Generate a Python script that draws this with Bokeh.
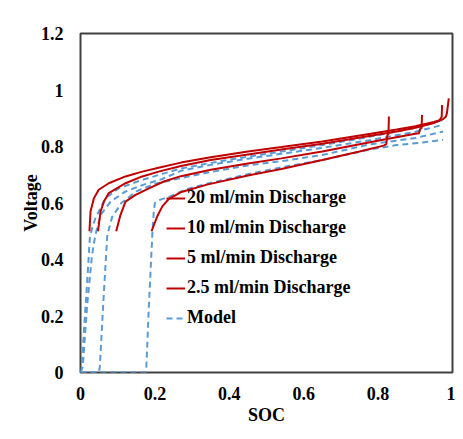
from bokeh.plotting import figure
from bokeh.models import FixedTicker, Range1d, Legend, LegendItem, BoxAnnotation
from bokeh.embed import file_html
from bokeh.resources import INLINE

# ---- data ----
series_names = ["20 ml/min Discharge", "10 ml/min Discharge", "5 ml/min Discharge", "2.5 ml/min Discharge"]

soc_20 = [0.024, 0.027, 0.036, 0.049, 0.076, 0.121, 0.166, 0.21, 0.27, 0.35, 0.45, 0.54, 0.65, 0.78, 0.85, 0.90, 0.95, 0.975, 0.982, 0.985, 0.99]
v_20 = [0.50, 0.57, 0.617, 0.647, 0.670, 0.694, 0.711, 0.725, 0.743, 0.762, 0.782, 0.798, 0.818, 0.845, 0.860, 0.872, 0.887, 0.897, 0.905, 0.918, 0.97]

soc_10 = [0.047, 0.054, 0.063, 0.076, 0.121, 0.166, 0.21, 0.27, 0.35, 0.45, 0.54, 0.65, 0.78, 0.85, 0.90, 0.95, 0.965, 0.971, 0.972]
v_10 = [0.50, 0.57, 0.605, 0.635, 0.670, 0.694, 0.711, 0.731, 0.752, 0.772, 0.789, 0.810, 0.838, 0.853, 0.866, 0.883, 0.892, 0.905, 0.947]

soc_5 = [0.096, 0.1075, 0.121, 0.148, 0.184, 0.224, 0.27, 0.35, 0.45, 0.54, 0.65, 0.75, 0.82, 0.90, 0.91, 0.913, 0.917, 0.918]
v_5 = [0.50, 0.558, 0.605, 0.629, 0.652, 0.676, 0.695, 0.718, 0.740, 0.758, 0.782, 0.808, 0.826, 0.845, 0.847, 0.862, 0.866, 0.912]

soc_2p5 = [0.191, 0.206, 0.22, 0.237, 0.269, 0.34, 0.45, 0.54, 0.65, 0.75, 0.815, 0.822, 0.825, 0.828, 0.829]
v_2p5 = [0.50, 0.552, 0.588, 0.614, 0.638, 0.665, 0.697, 0.720, 0.752, 0.782, 0.803, 0.808, 0.84, 0.845, 0.906]

soc_m1 = [0.0, 0.004, 0.009, 0.018, 0.025, 0.031, 0.040, 0.067, 0.103, 0.166, 0.22, 0.27, 0.35, 0.45, 0.54, 0.65, 0.78, 0.90, 0.975]
v_m1 = [0.0, 0.02, 0.145, 0.322, 0.475, 0.51, 0.546, 0.617, 0.652, 0.682, 0.703, 0.722, 0.742, 0.764, 0.782, 0.805, 0.835, 0.866, 0.894]

soc_m2 = [0.0, 0.006, 0.018, 0.031, 0.040, 0.054, 0.081, 0.12, 0.17, 0.22, 0.27, 0.35, 0.45, 0.54, 0.65, 0.78, 0.90, 0.975]
v_m2 = [0.0, 0.02, 0.24, 0.416, 0.487, 0.558, 0.605, 0.64, 0.665, 0.685, 0.714, 0.735, 0.757, 0.774, 0.795, 0.823, 0.852, 0.877]

soc_m3 = [0.0, 0.049, 0.052, 0.061, 0.072, 0.085, 0.11, 0.15, 0.20, 0.27, 0.35, 0.45, 0.54, 0.65, 0.78, 0.90, 0.975]
v_m3 = [0.0, 0.0, 0.02, 0.24, 0.487, 0.55, 0.600, 0.641, 0.668, 0.688, 0.71, 0.733, 0.748, 0.77, 0.808, 0.83, 0.853]

soc_m4 = [0.0, 0.175, 0.177, 0.184, 0.193, 0.197, 0.20, 0.215, 0.242, 0.287, 0.34, 0.45, 0.54, 0.65, 0.78, 0.85, 0.92, 0.975]
v_m4 = [0.0, 0.0, 0.02, 0.24, 0.487, 0.57, 0.60, 0.612, 0.624, 0.650, 0.668, 0.702, 0.726, 0.752, 0.790, 0.805, 0.814, 0.824]

x_ticks = [0, 0.2, 0.4, 0.6, 0.8, 1]
x_tick_labels = ["0", "0.2", "0.4", "0.6", "0.8", "1"]
y_ticks = [0, 0.2, 0.4, 0.6, 0.8, 1.0, 1.2]
y_tick_labels = ["0", "0.2", "0.4", "0.6", "0.8", "1", "1.2"]

RED = "#C00000"
BLUE = "#5B9BD5"
FONT = "Liberation Serif"

BORDER_TOP, FRAME_H, BORDER_BOTTOM = 33, 339, 62
CANVAS_H = BORDER_TOP + FRAME_H + BORDER_BOTTOM

p = figure(frame_width=372, frame_height=FRAME_H,
           min_border_left=80, min_border_top=BORDER_TOP, min_border_right=3, min_border_bottom=BORDER_BOTTOM,
           x_range=Range1d(0, 1), y_range=Range1d(0, 1.2),
           output_backend="svg", toolbar_location=None)

p.xgrid.visible = False
p.ygrid.visible = False
p.outline_line_color = "#404040"
p.outline_line_width = 2
p.background_fill_color = "white"
p.border_fill_color = "white"

# light grey outer frame seen at the top/left of the reference picture
# (canvas units: y is measured upward from the canvas bottom)
outer = BoxAnnotation(left=8, right=600, top=CANVAS_H - 13, bottom=-100,
                      left_units="canvas", right_units="canvas",
                      top_units="canvas", bottom_units="canvas",
                      fill_alpha=0, line_color="#d9d9d9", line_width=2, level="overlay")
p.add_layout(outer)

for ax in (p.xaxis[0], p.yaxis[0]):
    ax.axis_line_color = None
    ax.major_tick_line_color = None
    ax.minor_tick_line_color = None
    ax.major_tick_out = 0
    ax.major_tick_in = 0
    ax.major_label_text_font = FONT
    ax.major_label_text_font_style = "bold"
    ax.major_label_text_font_size = "18px"
    ax.major_label_text_color = "black"
    ax.axis_label_text_font = FONT
    ax.axis_label_text_font_style = "bold"
    ax.axis_label_text_font_size = "18px"
    ax.axis_label_text_color = "black"

p.xaxis.ticker = FixedTicker(ticks=x_ticks)
p.xaxis.major_label_overrides = {t: l for t, l in zip(x_ticks, x_tick_labels)}
p.yaxis.ticker = FixedTicker(ticks=y_ticks)
p.yaxis.major_label_overrides = {t: l for t, l in zip(y_ticks, y_tick_labels)}
p.xaxis.axis_label = "SOC"
p.yaxis.axis_label = "Voltage"
p.yaxis.major_label_standoff = 17
p.yaxis.axis_label_standoff = -3
p.xaxis.major_label_standoff = 14
p.xaxis.axis_label_standoff = 2

red_series = [(soc_20, v_20), (soc_10, v_10), (soc_5, v_5), (soc_2p5, v_2p5)]
model_series = [(soc_m1, v_m1), (soc_m2, v_m2), (soc_m3, v_m3), (soc_m4, v_m4)]

model_renderers = []
for xs, ys in model_series:
    r = p.line(xs, ys, line_color=BLUE, line_width=2, line_dash="6 4")
    model_renderers.append(r)

red_renderers = []
for xs, ys in red_series:
    r = p.line(xs, ys, line_color=RED, line_width=2)
    red_renderers.append(r)

items = [LegendItem(label=n, renderers=[r]) for n, r in zip(series_names, red_renderers)]
items.append(LegendItem(label="Model", renderers=[model_renderers[0]]))

legend = Legend(items=items, location=(86, 44))
legend.border_line_color = None
legend.background_fill_alpha = 0
legend.padding = 0
legend.margin = 0
legend.spacing = 9
legend.glyph_width = 19
legend.glyph_height = 20
legend.label_height = 20
legend.label_standoff = 2
legend.label_text_font = FONT
legend.label_text_font_style = "bold"
legend.label_text_font_size = "18px"
legend.label_text_color = "black"
p.add_layout(legend, "center")

open("out.html", "w").write(file_html(p, INLINE))
